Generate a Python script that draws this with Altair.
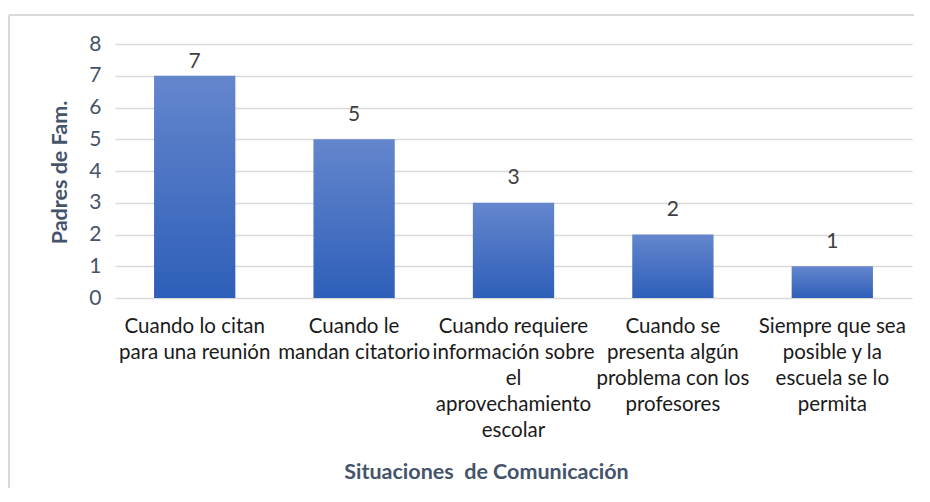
import altair as alt
import pandas as pd

categories = [
    "Cuando lo citan\npara una reunión",
    "Cuando le\nmandan citatorio",
    "Cuando requiere\ninformación sobre\nel\naprovechamiento\nescolar",
    "Cuando se\npresenta algún\nproblema con los\nprofesores",
    "Siempre que sea\nposible y la\nescuela se lo\npermita",
]
values = [7, 5, 3, 2, 1]
y_ticks = [0, 1, 2, 3, 4, 5, 6, 7, 8]

df = pd.DataFrame({"cat": categories, "val": values})

FONT = "Lato"
W, H = 797, 254

xaxis = alt.Axis(
    title="Situaciones \u00a0de Comunicación",
    labelExpr="split(datum.label, '\\n')",
    labelAngle=0,
    labelFontSize=20.5,
    labelFont=FONT,
    labelColor="#1a1a1a",
    labelLineHeight=26,
    labelPadding=18,
    labelBaseline="top",
    labelLimit=0,
    labelOverlap=False,
    labelBound=False,
    domain=False,
    ticks=False,
    titleFont=FONT,
    titleFontSize=21.5,
    titleFontWeight="bold",
    titleColor="#44546a",
    titleX=371,
    titleY=174,
    titleBaseline="middle",
)
xscale = alt.Scale(paddingInner=0.49, paddingOuter=0.245)

yaxis = alt.Axis(
    title="Padres de Fam.",
    values=y_ticks,
    labelOverlap=False,
    grid=True,
    gridColor="#d9d9d9",
    gridWidth=1.3,
    domain=False,
    ticks=False,
    labelFont=FONT,
    labelFontSize=21,
    labelColor="#44546a",
    labelPadding=14,
    titleFont=FONT,
    titleFontSize=21.5,
    titleFontWeight="bold",
    titleColor="#44546a",
    titleX=-55,
    titleY=128,
    titleBaseline="middle",
)
yscale = alt.Scale(domain=[0, 8], nice=False)

bars = alt.Chart(df).mark_bar(
    color=alt.Gradient(
        gradient="linear",
        stops=[
            alt.GradientStop(color="#6486cd", offset=0),
            alt.GradientStop(color="#2e5fb9", offset=1),
        ],
        x1=1, x2=1, y1=0, y2=1,
    )
).encode(
    x=alt.X("cat:N", sort=categories, scale=xscale, axis=xaxis),
    y=alt.Y("val:Q", scale=yscale, axis=yaxis),
)

text = alt.Chart(df).transform_calculate(
    ty="min(datum.val + 0.77, 7.43)"
).mark_text(
    font=FONT, fontSize=21, color="#404040", baseline="middle"
).encode(
    x=alt.X("cat:N", sort=categories, scale=xscale, axis=xaxis),
    y=alt.Y("ty:Q", scale=yscale, axis=yaxis),
    text=alt.Text("val:Q"),
)

border_top = alt.Chart(df).mark_rule(color="#d9d9d9", strokeWidth=1.5).encode(
    x=alt.value(-106), x2=alt.value(805), y=alt.value(-29)
)
border_left = alt.Chart(df).mark_rule(color="#d9d9d9", strokeWidth=1.5).encode(
    x=alt.value(-106), y=alt.value(-29), y2=alt.value(460)
)

chart = alt.layer(bars, text, border_top, border_left).properties(
    width=W,
    height=H,
    autosize=alt.AutoSizeParams(type="none"),
    padding={"left": 107, "top": 36, "right": 2, "bottom": 190},
).configure_view(stroke=None)

chart.save("out.html", embed_options={"renderer": "svg", "actions": False})
